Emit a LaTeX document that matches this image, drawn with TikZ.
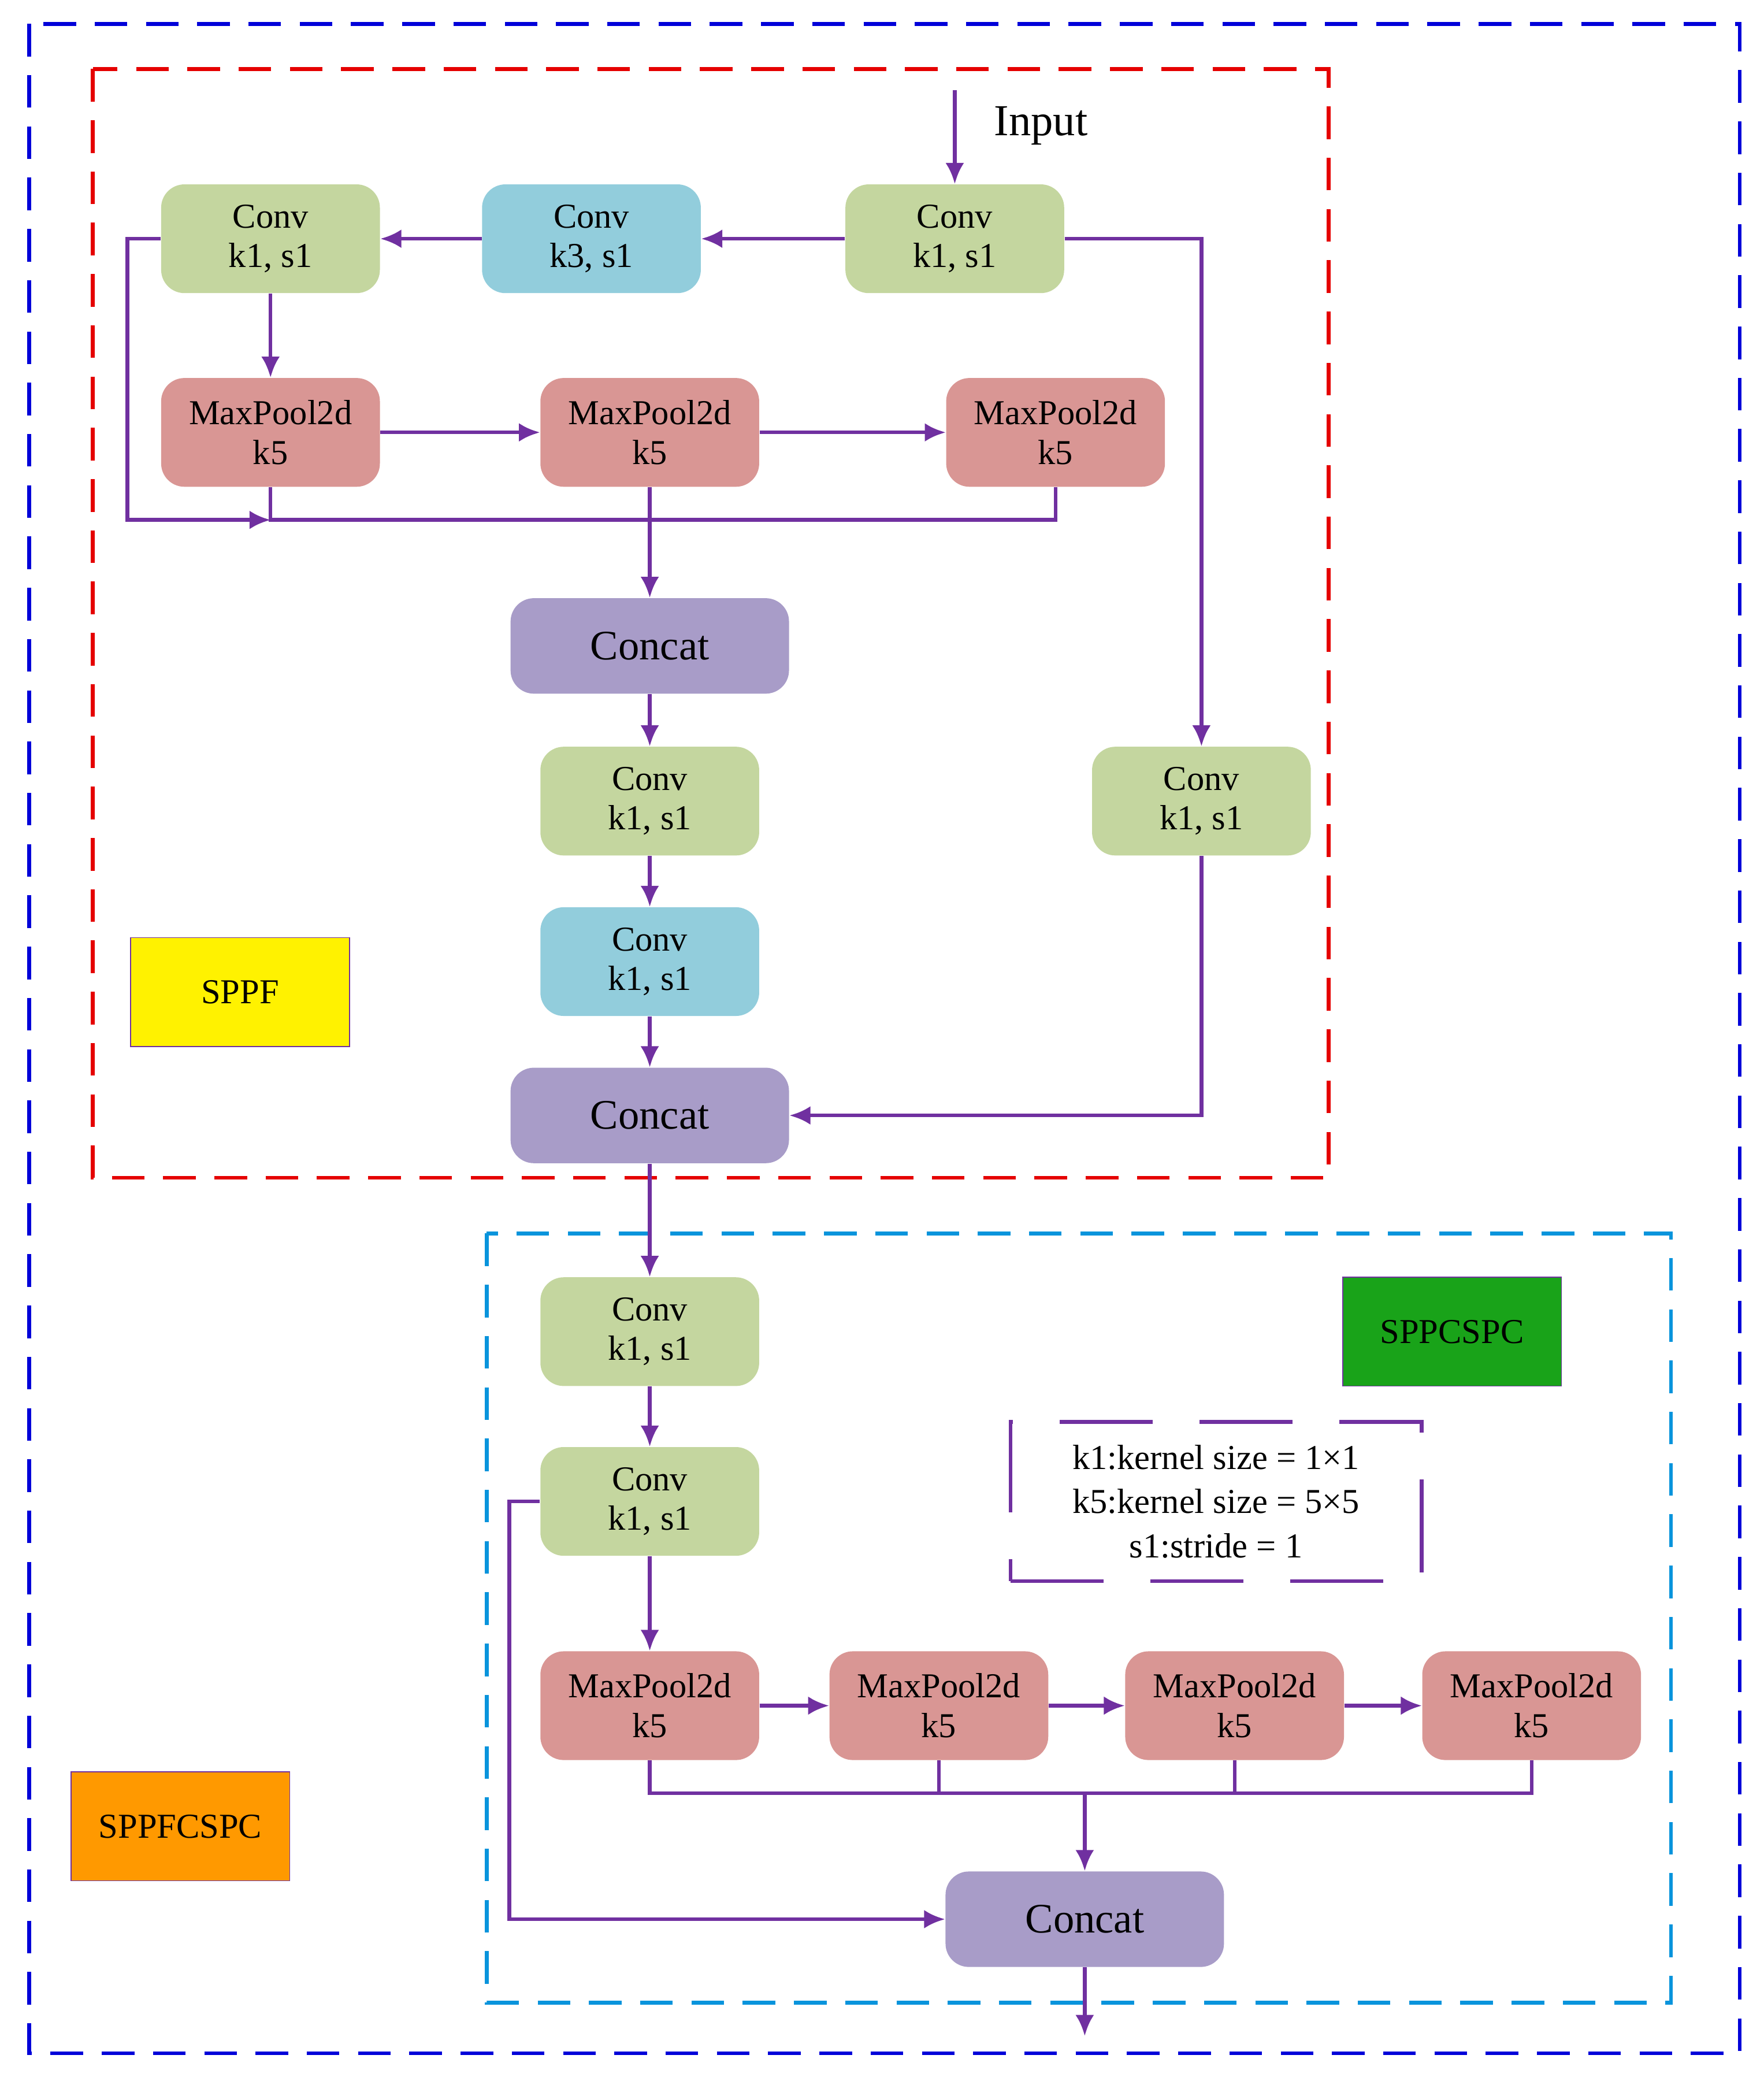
\documentclass[tikz,border=0pt]{standalone}
\usepackage{fontspec}
\setmainfont{Liberation Serif}
\usetikzlibrary{positioning}
\usetikzlibrary{arrows.meta}
\definecolor{convgreen}{HTML}{C4D69F}
\definecolor{convblue}{HTML}{92CDDC}
\definecolor{poolred}{HTML}{D99694}
\definecolor{catpurple}{HTML}{A89CC8}
\definecolor{linepurple}{HTML}{7030A0}
\tikzset{
  blk/.style={rounded corners=10pt, minimum width=3.3cm, minimum height=1.64cm, align=center, font=\fontsize{15}{17}\selectfont, inner sep=0pt},
  conv/.style={blk, fill=convgreen},
  convb/.style={blk, fill=convblue},
  pool/.style={blk, fill=poolred},
  cat/.style={blk, fill=catpurple, minimum width=4.2cm, minimum height=1.44cm, font=\fontsize{18}{20}\selectfont},
  tag/.style={draw=linepurple, minimum width=3.3cm, minimum height=1.64cm, font=\fontsize{15}{17}\selectfont, inner sep=0pt},
  flow/.style={draw=linepurple, line width=1.6pt, -{Latex[length=9pt,width=8pt]}},
  wire/.style={draw=linepurple, line width=1.6pt}
}
\begin{document}
\begin{tikzpicture}[x=0.02cm,y=-0.02cm]
		\useasboundingbox (0,0) rectangle (1330,1569);
		% frames
		\draw [blue!85!black, line width=1.6pt, dash pattern=on 14pt off 8pt] (22,18) rectangle (1312,1548);
		\draw [red!90!black, line width=1.6pt, dash pattern=on 14pt off 8pt] (70,52) rectangle (1002,888);
		\draw [cyan!80!blue, line width=1.6pt, dash pattern=on 14pt off 8pt] (367,930) rectangle (1260,1510);
		
		% SPPF part
		\coordinate (in) at (720,68);
		\node at (785,95) [font=\fontsize{19}{21}\selectfont] (intext) {Input};
		\node [conv] at (720,180) (c1) {Conv\\k1, s1};
		\node [convb] at (446,180) (c2) {Conv\\k3, s1};
		\node [conv] at (204,180) (c3) {Conv\\k1, s1};
		\node [pool] at (204,326) (m1) {MaxPool2d\\k5};
		\node [pool] at (490,326) (m2) {MaxPool2d\\k5};
		\node [pool] at (796,326) (m3) {MaxPool2d\\k5};
		\node [cat] at (490,487) (cat1) {Concat};
		\node [conv] at (490,604) (c4) {Conv\\k1, s1};
		\node [convb] at (490,725) (c5) {Conv\\k1, s1};
		\node [cat] at (490,841) (cat2) {Concat};
		\node [conv] at (906,604) (c6) {Conv\\k1, s1};
		\node [tag, fill=yellow] at (181,748) (sppf) {SPPF};
		
		\coordinate (j1) at (96,392);
		\coordinate (j2) at (204,392);
		\draw [flow] (in) -- (c1);
		\draw [flow] (c1) -- (c2);
		\draw [flow] (c2) -- (c3);
		\draw [flow] (c3) -- (m1);
		\draw [flow] (m1) -- (m2);
		\draw [flow] (m2) -- (m3);
		\draw [flow] (c3.west) -| (j1) -- (j2);
		\draw [wire] (m1.south) -- (j2) -- (j2 -| m3.south) -- (m3.south);
		\draw [flow] (m2) -- (cat1);
		\draw [flow] (cat1) -- (c4);
		\draw [flow] (c4) -- (c5);
		\draw [flow] (c5) -- (cat2);
		\draw [flow] (c1.east) -| (c6.north);
		\draw [flow] (c6.south) |- (cat2.east);
		
		% SPPCSPC part
		\node [conv] at (490,1004) (c7) {Conv\\k1, s1};
		\node [conv] at (490,1132) (c8) {Conv\\k1, s1};
		\node [pool] at (490,1286) (m4) {MaxPool2d\\k5};
		\node [pool] at (708,1286) (m5) {MaxPool2d\\k5};
		\node [pool] at (931,1286) (m6) {MaxPool2d\\k5};
		\node [pool] at (1155,1286) (m7) {MaxPool2d\\k5};
		\node [cat] at (818,1447) (cat3) {Concat};
		\coordinate (out) at (818,1535);
		\coordinate (j3) at (818,1352);
		\coordinate (j4) at (384,1132);
		\node [tag, fill=green!60!black!90] at (1095,1004) (sppcspc) {SPPCSPC};
		\node [tag, fill=orange!80!yellow] at (136,1377) (sppfcspc) {SPPFCSPC};
		\node [draw=linepurple, line width=1.6pt, dash pattern=on 40pt off 20pt, minimum width=6.2cm, minimum height=2.4cm, align=center, font=\fontsize{15}{19}\selectfont] at (917,1132) (note) {k1:kernel size = 1×1\\k5:kernel size = 5×5\\s1:stride = 1};
		
		\draw [flow] (cat2) -- (c7);
		\draw [flow] (c7) -- (c8);
		\draw [flow] (c8) -- (m4);
		\draw [flow] (m4) -- (m5);
		\draw [flow] (m5) -- (m6);
		\draw [flow] (m6) -- (m7);
		\draw [wire] (m4.south) |- (j3 -| m7.south) -- (m7.south);
		\draw [wire] (m5.south) -- (m5.south |- j3);
		\draw [wire] (m6.south) -- (m6.south |- j3);
		\draw [flow] (j3) -- (cat3);
		\draw [flow] (c8.west) -- (j4) |- (cat3.west);
		\draw [flow] (cat3) -- (out);
\end{tikzpicture}
\end{document}
